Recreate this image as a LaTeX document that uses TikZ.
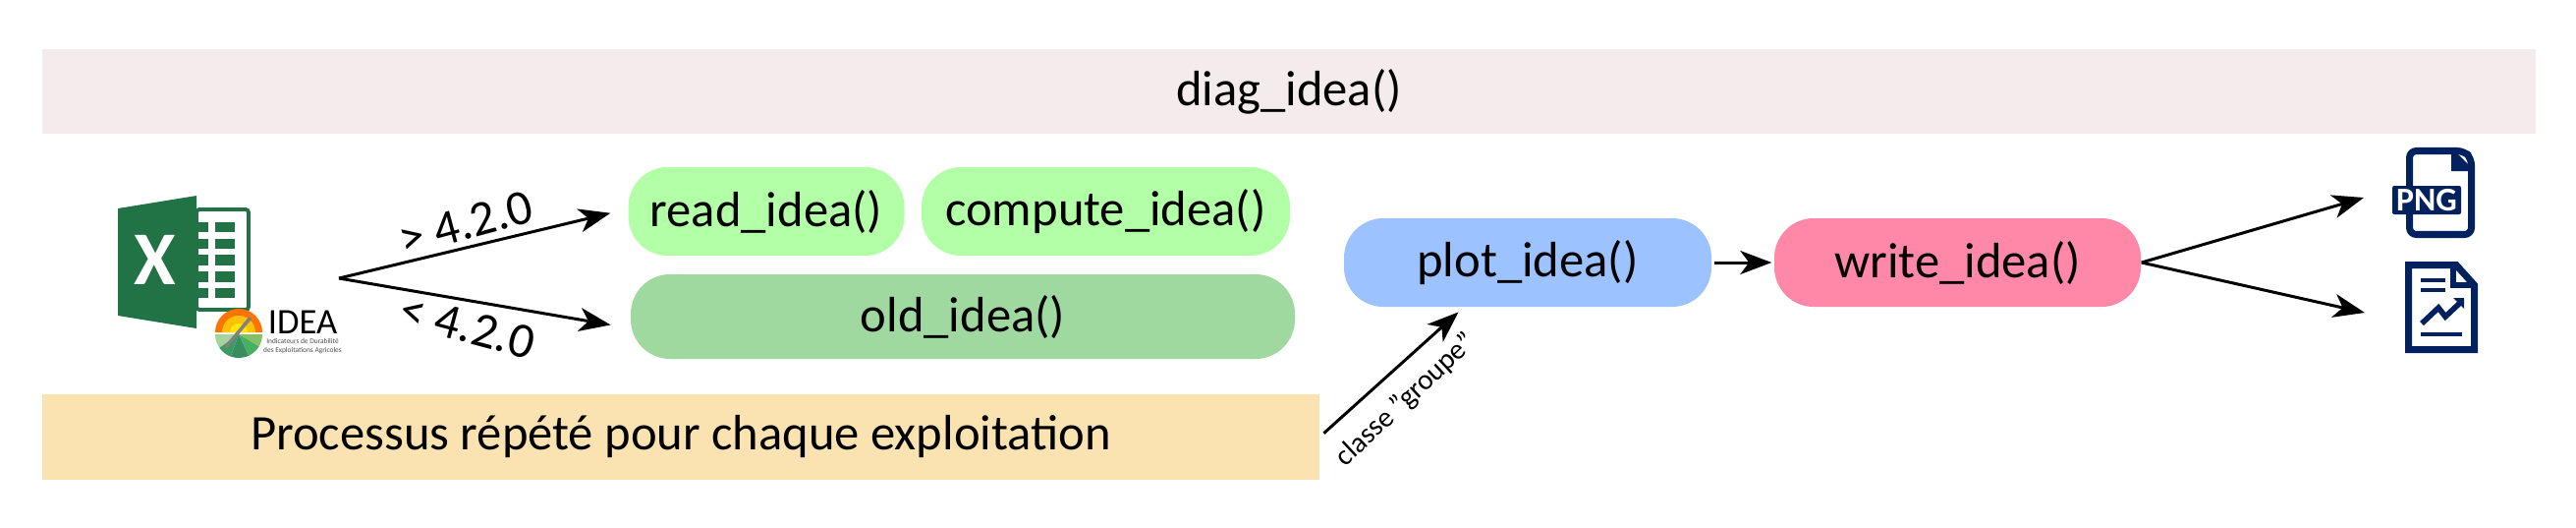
\documentclass[tikz,border=0pt]{standalone}
\usepackage{fontspec}
\setmainfont{Carlito}
\usetikzlibrary{arrows.meta}
\definecolor{barpink}{HTML}{F4ECEC}
\definecolor{baryellow}{HTML}{FAE3B1}
\definecolor{pillgreen}{HTML}{B3FFA8}
\definecolor{pilldark}{HTML}{A0D9A0}
\definecolor{pillblue}{HTML}{9CC2FF}
\definecolor{pillrose}{HTML}{FF88A9}
\definecolor{xlgreen}{HTML}{217346}
\definecolor{navy}{HTML}{03215F}
\tikzset{
  txt/.style={font=\fontsize{14.4}{17}\selectfont, inner sep=0pt},
  barbox/.style={txt, rectangle, minimum height=0.86cm},
  pill/.style={txt, rectangle, rounded corners=0.4cm, minimum height=0.90cm},
  link/.style={-{Stealth[length=0.32cm,width=0.24cm,inset=0.09cm]}, line width=0.85pt},
}
\begin{document}
\begin{tikzpicture}
  \useasboundingbox (0,0) rectangle (26.22,-5.36);
  \node[barbox, fill=barpink, minimum width=25.38cm] (diag) at (13.12,-0.93) {diag\_idea()};
  \node[barbox, fill=baryellow, minimum width=13.00cm, minimum height=0.87cm] (repeat) at (6.93,-4.44) {Processus répété pour chaque exploitation};
  \node[pill, fill=pillgreen, minimum width=2.81cm] (read) at (7.80,-2.15) {read\_idea()};
  \node[pill, fill=pillgreen, minimum width=3.75cm] (compute) at (11.255,-2.15) {compute\_idea()};
  \node[pill, fill=pilldark, minimum width=6.76cm, minimum height=0.86cm] (old) at (9.80,-3.22) {old\_idea()};
  \node[pill, fill=pillblue, minimum width=3.74cm] (plot) at (15.55,-2.67) {plot\_idea()};
  \node[pill, fill=pillrose, minimum width=3.73cm] (write) at (19.925,-2.67) {write\_idea()};
  \coordinate (src) at (3.45,-2.83);
  \coordinate (pngin) at (24.06,-2.01);
  \coordinate (repin) at (24.07,-3.18);
  % Draw the connectors
  \draw[link, shorten >=0.18cm] (src) -- (read.179) node[txt, rotate=15] (newer) at (4.74,-2.27) {> 4.2.0};
  \draw[link, shorten >=0.20cm] (src) -- (old.182.4) node[txt, rotate=-15] (older) at (4.76,-3.32) {< 4.2.0};
  \draw[link, shorten >=0.02cm, shorten <=0.02cm] (plot) -- (write);
  \draw[link] (write.east) -- (pngin);
  \draw[link] (write.east) -- (repin);
  \draw[link, shorten >=0.07cm, shorten <=0.05cm] (repeat.-0.6) -- (plot.215)
    node[txt, font=\fontsize{8.3}{10}\selectfont, rotate=43] (group) at (14.31,-4.07) {classe "groupe"};
  % Excel icon
  \filldraw[xlgreen, fill=white, line width=1.1pt, rounded corners=0.03cm] (2.00,-2.13) rectangle (2.53,-3.15);
  \fill[xlgreen] (1.20,-2.12) -- (2.00,-1.99) -- (2.00,-3.34) -- (1.20,-3.21) -- cycle;
  \foreach \top/\bot in {2.26/2.36, 2.43/2.53, 2.59/2.70, 2.76/2.87, 2.93/3.03} {
    \fill[xlgreen] (2.00,-\top) rectangle (2.12,-\bot);
    \fill[xlgreen] (2.19,-\top) rectangle (2.39,-\bot);
  }
  \node[inner sep=0pt, white, font=\fontsize{22}{24}\selectfont\bfseries] (xl) at (1.575,-2.64) {X};
  % IDEA logo
  \fill[orange!90!red] (2.67,-3.38) arc (0:180:0.24) -- cycle;
  \fill[yellow!55!orange] (2.60,-3.38) arc (0:180:0.17) -- cycle;
  \fill[yellow!90!orange] (2.52,-3.38) arc (0:180:0.09) -- cycle;
  \foreach \from/\to/\col in {180/215/A5D49F, 215/250/3F9A62, 250/295/388E60, 295/330/45AF62, 330/360/86C066} {
    \definecolor{sectorcol}{HTML}{\col}
    \fill[sectorcol] (2.43,-3.40) -- ++(\from:0.24) arc (\from:\to:0.24) -- cycle;
  }
  \draw[gray, line width=1pt] (2.30,-3.53) -- (2.55,-3.23);
  \node[inner sep=0pt, font=\fontsize{10.4}{12}\selectfont] (ideaname) at (3.08,-3.28) {IDEA};
  \node[inner sep=0pt, align=center, text=black!70, font=\fontsize{2.1}{2.4}\selectfont] (ideasub) at (3.08,-3.52) {Indicateurs de Durabilité\\des Exploitations Agricoles};
  % PNG icon
  \draw[navy, line width=2pt, rounded corners=0.07cm] (24.525,-1.535) -- (25.08,-1.535) -- (25.155,-1.61) -- (25.155,-2.385) -- (24.525,-2.385) -- cycle;
  \fill[navy] (24.95,-1.50) -- (25.19,-1.74) -- (24.95,-1.74) -- cycle;
  \node[fill=navy, text=white, rounded corners=0.02cm, inner sep=0pt, minimum width=0.70cm, minimum height=0.29cm, font=\fontsize{9.6}{10}\selectfont\bfseries] (pngtag) at (24.70,-2.035) {PNG};
  % report icon
  \draw[navy, line width=2pt] (24.515,-2.695) -- (25.00,-2.695) -- (25.185,-2.90) -- (25.185,-3.555) -- (24.515,-3.555) -- cycle;
  \draw[navy, line width=1.6pt] (24.97,-2.68) -- (24.97,-2.90) -- (25.18,-2.90);
  \draw[navy, line width=1.4pt] (24.64,-2.85) -- (24.89,-2.85) (24.64,-2.95) -- (24.89,-2.95) (24.64,-3.40) -- (25.06,-3.40);
  \draw[navy, line width=1.6pt] (24.65,-3.29) -- (24.82,-3.13) -- (24.89,-3.22) -- (25.05,-3.07);
  \fill[navy] (24.97,-3.03) -- (25.08,-3.03) -- (25.08,-3.14) -- cycle;
\end{tikzpicture}
\end{document}
